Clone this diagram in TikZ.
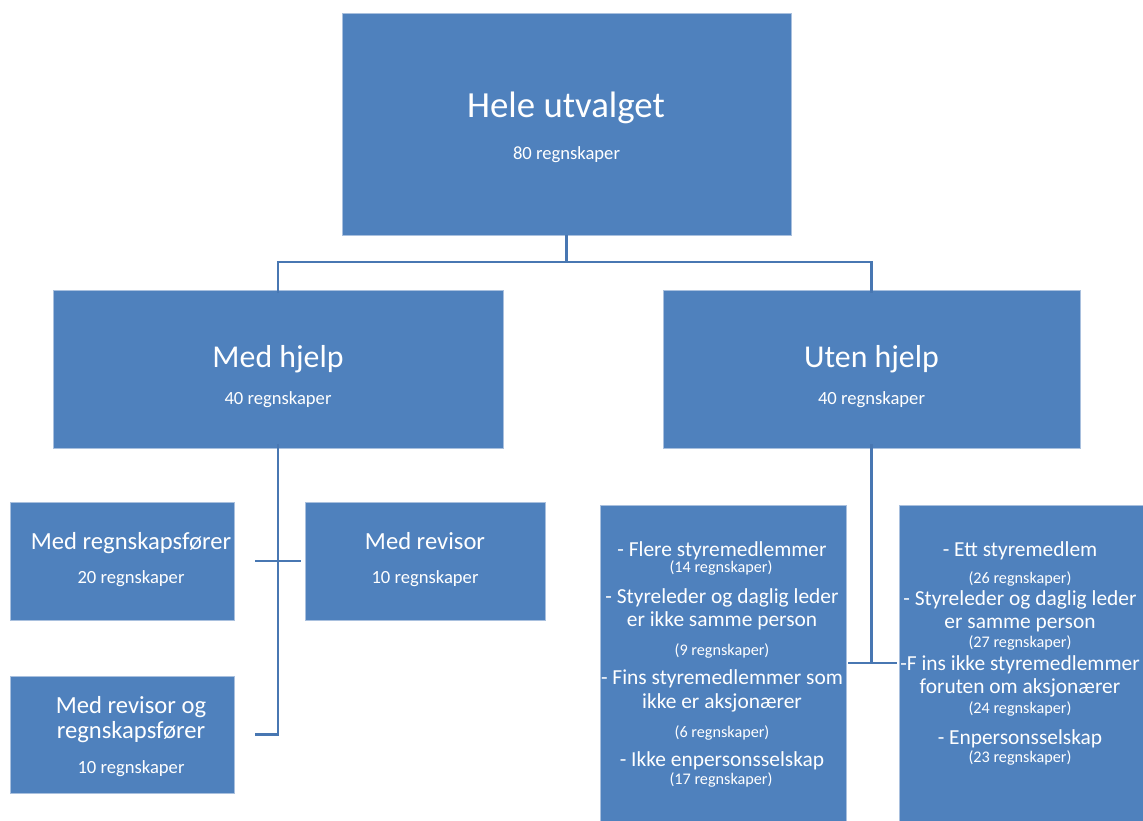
\documentclass[tikz,border=0pt]{standalone}
\usepackage{fontspec}
\setmainfont{Carlito}
\usetikzlibrary{calc}
\definecolor{boxblue}{HTML}{4F81BD}
\definecolor{boxedge}{HTML}{A9C0DE}
\definecolor{linkblue}{HTML}{4877B2}
\tikzset{
  orgbox/.style={rectangle, fill=boxblue, draw=boxedge, line width=0.8pt,
    inner sep=0pt, outer sep=0pt},
  link/.style={draw=linkblue, line width=2.6pt},
  bigtitle/.style={anchor=base, text=white, font=\fontsize{36.8}{40}\selectfont},
  midtitle/.style={anchor=base, text=white, font=\fontsize{31.8}{36}\selectfont},
  smalltitle/.style={anchor=base, text=white, font=\fontsize{24.6}{28}\selectfont},
  itemtext/.style={anchor=base, text=white, font=\fontsize{21.4}{25}\selectfont},
  count/.style={anchor=base, text=white, font=\fontsize{18.6}{22}\selectfont},
  smallcount/.style={anchor=base, text=white, font=\fontsize{16.2}{18}\selectfont},
}
\begin{document}
\begin{tikzpicture}[x=1pt, y=-1pt]
\useasboundingbox (0,0) rectangle (1143,820);

% boxes
\node[orgbox, minimum width=449pt, minimum height=222pt] (top) at (566.5,124) {};
\node[orgbox, minimum width=450pt, minimum height=158pt] (medh) at (278,369) {};
\node[orgbox, minimum width=417pt, minimum height=158pt] (utenh) at (871.5,369) {};
\node[orgbox, minimum width=224pt, minimum height=118pt] (regf) at (122,561) {};
\node[orgbox, minimum width=240pt, minimum height=118pt] (rev) at (425,561) {};
\node[orgbox, minimum width=224pt, minimum height=117pt] (revreg) at (122,734.5) {};
\node[orgbox, minimum width=246pt, minimum height=316pt] (multi) at (723,663) {};
\node[orgbox, minimum width=244pt, minimum height=316pt] (single) at (1021,663) {};

% connectors
\path[link] (top.south) -- ++(0,27) coordinate (split)
  -| ([yshift=-3pt]medh.north);
\path[link] (split) -| ([yshift=-3pt]utenh.north);
\path[link] ([yshift=4pt]medh.south) |- ([xshift=21pt]revreg.east);
\path[link] ([xshift=21pt]regf.east) -- ([xshift=-4pt]rev.west);
\path[link] ([yshift=4pt]utenh.south) -- (utenh.south |- multi.east);
\path[link] ([xshift=2pt]multi.east) -- ([xshift=-2pt]single.west);

% texts
\node[bigtitle] (t1) at (566,117) {Hele utvalget};
\node[count] (t1c) at (566.5,159) {80 regnskaper};
\node[midtitle] (t2) at (278,367) {Med hjelp};
\node[count] (t2c) at (278,404) {40 regnskaper};
\node[midtitle] (t3) at (871.5,367) {Uten hjelp};
\node[count] (t3c) at (871.5,404) {40 regnskaper};

\node[smalltitle] (t4) at (131,549) {Med regnskapsfører};
\node[count] (t4c) at (131,583) {20 regnskaper};
\node[smalltitle] (t5) at (425,549) {Med revisor};
\node[count] (t5c) at (425,583) {10 regnskaper};
\node[smalltitle] (t6a) at (131,713) {Med revisor og};
\node[smalltitle] (t6b) at (131,738) {regnskapsfører};
\node[count] (t6c) at (131,773) {10 regnskaper};

\node[itemtext] (a1) at (722,556) {- Flere styremedlemmer};
\node[smallcount] (a1c) at (721,572) {(14 regnskaper)};
\node[itemtext] (a2) at (722,603) {- Styreleder og daglig leder};
\node[itemtext] (a2b) at (722,626) {er ikke samme person};
\node[smallcount] (a2c) at (722,655) {(9 regnskaper)};
\node[itemtext] (a3) at (722,684) {- Fins styremedlemmer som};
\node[itemtext] (a3b) at (722,708) {ikke er aksjonærer};
\node[smallcount] (a3c) at (722,737) {(6 regnskaper)};
\node[itemtext] (a4) at (722,766) {- Ikke enpersonsselskap};
\node[smallcount] (a4c) at (721,784) {(17 regnskaper)};

\node[itemtext] (b1) at (1020,556) {- Ett styremedlem};
\node[smallcount] (b1c) at (1020,583) {(26 regnskaper)};
\node[itemtext] (b2) at (1020,605) {- Styreleder og daglig leder};
\node[itemtext] (b2b) at (1020,628) {er samme person};
\node[smallcount] (b2c) at (1020,647) {(27 regnskaper)};
\node[itemtext] (b3) at (1020,670) {-F ins ikke styremedlemmer};
\node[itemtext] (b3b) at (1020,693) {foruten om aksjonærer};
\node[smallcount] (b3c) at (1020,713) {(24 regnskaper)};
\node[itemtext] (b4) at (1020,744) {- Enpersonsselskap};
\node[smallcount] (b4c) at (1020,762) {(23 regnskaper)};
\end{tikzpicture}
\end{document}
